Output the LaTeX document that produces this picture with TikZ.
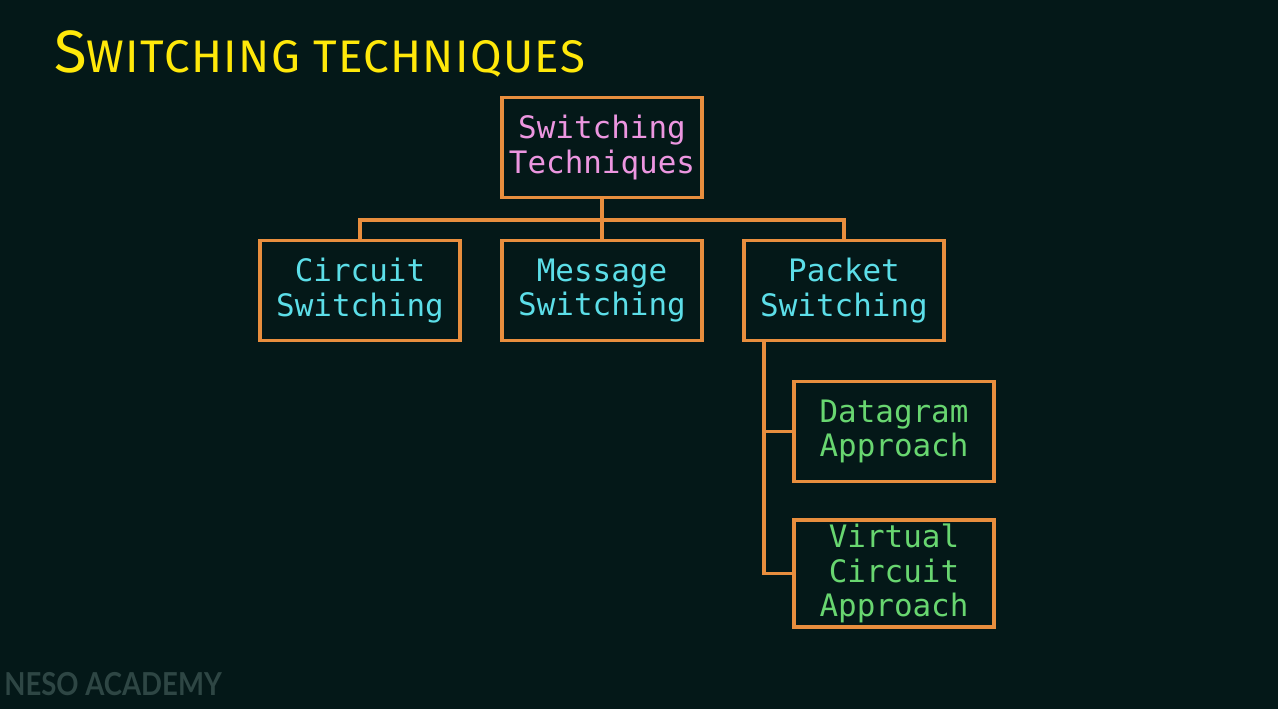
\documentclass[tikz,border=0pt]{standalone}
\usepackage{fontspec}
\setmonofont{DejaVu Sans Mono}
\newfontfamily\titlefont[LetterSpace=3]{Fira Sans}
\newfontfamily\markfont{Lato}
\usetikzlibrary{positioning}
\definecolor{slidebg}{RGB}{4,24,24}
\definecolor{boxline}{RGB}{232,142,62}
\definecolor{rootcol}{RGB}{236,150,224}
\definecolor{kindcol}{RGB}{92,222,232}
\definecolor{subcol}{RGB}{104,214,112}
\definecolor{titlecol}{RGB}{255,232,10}
\definecolor{markcol}{RGB}{46,70,68}

\begin{document}
\begin{tikzpicture}[x=0.02cm, y=-0.02cm,% one unit = one pixel of the slide
box/.style = {draw=boxline, line width=1.9pt, rectangle,
              minimum width=4cm, minimum height=2cm,
              inner sep=2pt, align=center,
              font=\ttfamily\fontsize{17.6}{19.8}\selectfont},
link/.style = {draw=boxline, line width=2pt}
                    ]
	% slide background
	\fill[slidebg] (0,0) rectangle (1278,709);
	\useasboundingbox (0,0) rectangle (1278,709);

	% heading and watermark
	\node[anchor=base west, text=titlecol, inner sep=0pt] (title) at (54,73)
	     {\titlefont\fontsize{34}{34}\selectfont S\fontsize{26}{26}\selectfont WITCHING TECHNIQUES};
	\node[anchor=base west, text=markcol, inner sep=0pt, xscale=0.87] (mark) at (4,695)
	     {\markfont\bfseries\fontsize{18}{18}\selectfont NESO ACADEMY};

	% the tree
	\node[box, text=rootcol] (root) at (602,147.5) {Switching\\Techniques};
	\node[box, text=kindcol] (circ) at (360,290.5) {Circuit\\Switching};
	\node[box, text=kindcol] (msg)  at (602,290.5) {Message\\Switching};
	\node[box, text=kindcol] (pack) at (844,290.5) {Packet\\Switching};
	\node[box, text=subcol]  (data) at (894,431.5) {Datagram\\Approach};
	\node[box, text=subcol]  (virt) at (894,573.5) {Virtual\\Circuit\\Approach};

	\coordinate (bus)   at (0,220);
	\coordinate (trunk) at (764,341);

	\draw[link] (root.south) -- (msg.north);
	\draw[link] (circ.north) -- (circ.north |- bus) -- (pack.north |- bus) -- (pack.north);
	\draw[link] (trunk) |- (virt.west);
	\draw[link] (trunk |- data.west) -- (data.west);
\end{tikzpicture}
\end{document}
